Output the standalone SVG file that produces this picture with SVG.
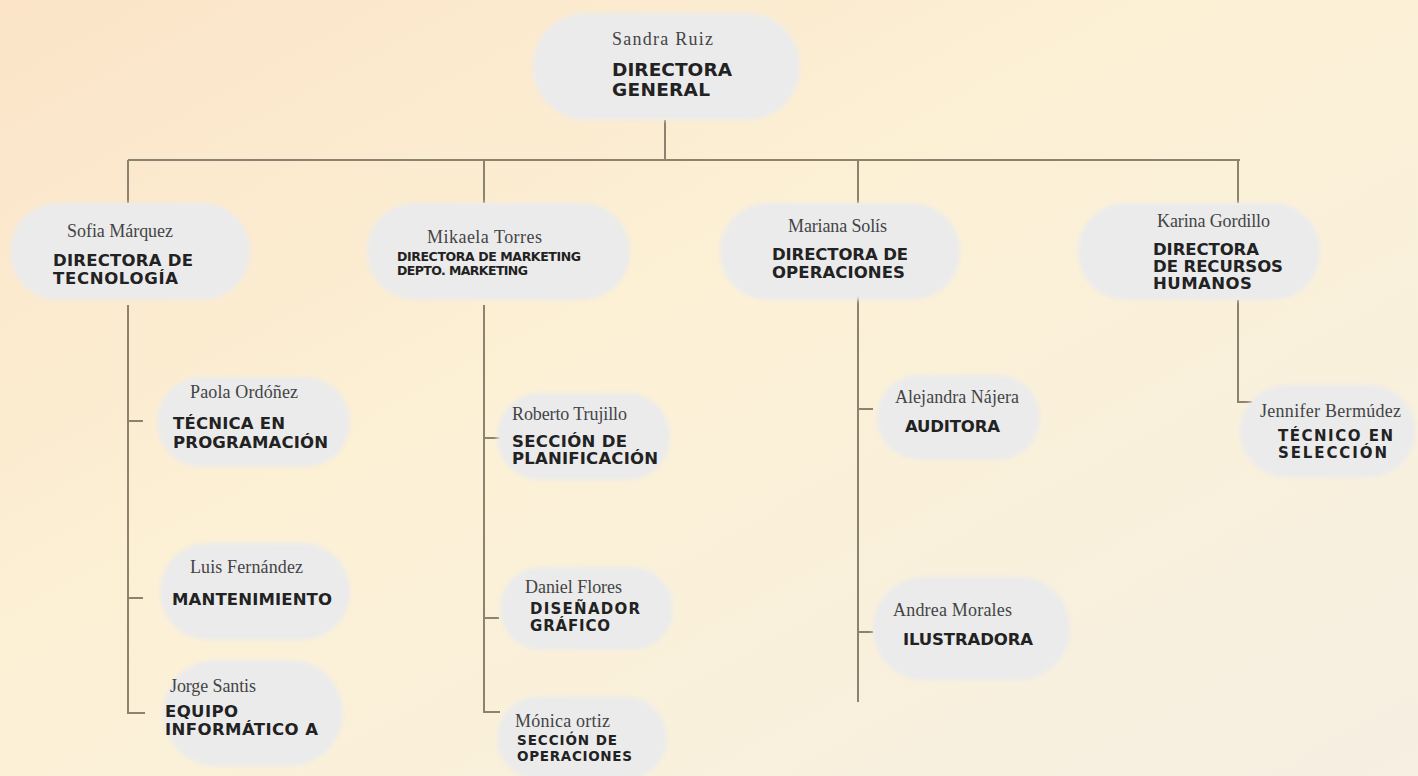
<svg xmlns="http://www.w3.org/2000/svg" width="1418" height="776" viewBox="0 0 1418 776">
<defs>
<linearGradient id="bg" x1="0" y1="0" x2="1" y2="1">
<stop offset="0" stop-color="#fbe4c8"/>
<stop offset="0.45" stop-color="#fcf1d6"/>
<stop offset="1" stop-color="#f6efe2"/>
</linearGradient>
<filter id="soft" x="-10%" y="-10%" width="120%" height="120%">
<feGaussianBlur stdDeviation="2"/>
</filter>
<style>
.pill{fill:#ebebec;filter:url(#soft)}
.nm{font-family:"Liberation Serif","DejaVu Serif",serif;font-size:18px;fill:#444}
.tt{font-family:"DejaVu Sans","Lato",sans-serif;font-weight:bold;font-size:16.5px;fill:#222}
.conn{stroke:#8b8270;stroke-width:2;fill:none}
</style>
</defs>
<rect width="1418" height="776" fill="url(#bg)"/>
<g id="connectors" class="conn">
<path d="M665 120V160M128 160H1240M128 160V203M484 160V203M858 160V203M1238 160V203"/>
<path d="M128 305V713H145M128 421H143M128 598H143"/>
<path d="M484 305V712H500M484 438H500M484 618H499"/>
<path d="M858 296V702M858 409H873M858 632H873"/>
<path d="M1238 300V402H1252"/>
</g>
<g id="n-sandra">
<rect class="pill" x="533" y="13" width="267" height="107" rx="53"/>
<text class="nm" x="612" y="45" textLength="101">Sandra Ruiz</text>
<text class="tt" x="612" y="76" style="font-size:18.5px" textLength="120">DIRECTORA</text>
<text class="tt" x="612" y="96" style="font-size:18.5px" textLength="98">GENERAL</text>
</g>
<g id="n-sofia">
<rect class="pill" x="10" y="203" width="240" height="97" rx="48"/>
<text class="nm" x="67" y="237" textLength="106">Sofia Márquez</text>
<text class="tt" x="53" y="266" textLength="140">DIRECTORA DE</text>
<text class="tt" x="53" y="284" textLength="125">TECNOLOGÍA</text>
</g>
<g id="n-mikaela">
<rect class="pill" x="367" y="203" width="263" height="97" rx="48"/>
<text class="nm" x="427" y="243" textLength="115">Mikaela  Torres</text>
<text class="tt" x="397" y="261" style="font-size:12.5px" textLength="184">DIRECTORA DE MARKETING</text>
<text class="tt" x="397" y="275" style="font-size:12.5px" textLength="131">DEPTO. MARKETING</text>
</g>
<g id="n-mariana">
<rect class="pill" x="720" y="203" width="240" height="97" rx="48"/>
<text class="nm" x="788" y="232" textLength="99">Mariana Solís</text>
<text class="tt" x="772" y="260" textLength="136">DIRECTORA DE</text>
<text class="tt" x="772" y="278" textLength="133">OPERACIONES</text>
</g>
<g id="n-karina">
<rect class="pill" x="1078" y="203" width="242" height="97" rx="48"/>
<text class="nm" x="1157" y="227" textLength="113">Karina Gordillo</text>
<text class="tt" x="1153" y="255" textLength="106">DIRECTORA</text>
<text class="tt" x="1153" y="272" textLength="130">DE RECURSOS</text>
<text class="tt" x="1153" y="289" textLength="99">HUMANOS</text>
</g>
<g id="n-paola">
<rect class="pill" x="157" y="377" width="193" height="90" rx="45"/>
<text class="nm" x="190" y="398" textLength="108">Paola Ordóñez</text>
<text class="tt" x="173" y="429" textLength="112">TÉCNICA EN</text>
<text class="tt" x="173" y="448" textLength="155">PROGRAMACIÓN</text>
</g>
<g id="n-luis">
<rect class="pill" x="160" y="543" width="190" height="97" rx="48"/>
<text class="nm" x="190" y="573" textLength="113">Luis Fernández</text>
<text class="tt" x="172" y="605" textLength="160">MANTENIMIENTO</text>
</g>
<g id="n-jorge">
<rect class="pill" x="163" y="660" width="180" height="106" rx="53"/>
<text class="nm" x="170" y="692" textLength="86">Jorge Santis</text>
<text class="tt" x="165" y="717" textLength="73">EQUIPO</text>
<text class="tt" x="165" y="735" textLength="153">INFORMÁTICO A</text>
</g>
<g id="n-roberto">
<rect class="pill" x="497" y="393" width="173" height="87" rx="43"/>
<text class="nm" x="512" y="420" textLength="115">Roberto Trujillo</text>
<text class="tt" x="512" y="447" textLength="115">SECCIÓN DE</text>
<text class="tt" x="512" y="464" textLength="146">PLANIFICACIÓN</text>
</g>
<g id="n-daniel">
<rect class="pill" x="500" y="567" width="173" height="83" rx="41"/>
<text class="nm" x="525" y="593" textLength="97">Daniel Flores</text>
<text class="tt" x="530" y="614" style="font-size:15px" textLength="110">DISEÑADOR</text>
<text class="tt" x="530" y="631" style="font-size:15px" textLength="80">GRÁFICO</text>
</g>
<g id="n-monica">
<rect class="pill" x="497" y="697" width="170" height="82" rx="41"/>
<text class="nm" x="515" y="727" textLength="95">Mónica ortiz</text>
<text class="tt" x="517" y="745" style="font-size:13.5px" textLength="100">SECCIÓN DE</text>
<text class="tt" x="517" y="761" style="font-size:13.5px" textLength="115">OPERACIONES</text>
</g>
<g id="n-alejandra">
<rect class="pill" x="877" y="375" width="163" height="85" rx="42"/>
<text class="nm" x="895" y="403" textLength="124">Alejandra Nájera</text>
<text class="tt" x="905" y="432" textLength="95">AUDITORA</text>
</g>
<g id="n-andrea">
<rect class="pill" x="873" y="577" width="197" height="103" rx="51"/>
<text class="nm" x="893" y="616" textLength="119">Andrea Morales</text>
<text class="tt" x="903" y="645" textLength="130">ILUSTRADORA</text>
</g>
<g id="n-jennifer">
<rect class="pill" x="1240" y="385" width="175" height="92" rx="46"/>
<text class="nm" x="1260" y="417" textLength="141">Jennifer Bermúdez</text>
<text class="tt" x="1278" y="441" style="font-size:15px" textLength="115">TÉCNICO EN</text>
<text class="tt" x="1278" y="458" style="font-size:15px" textLength="109">SELECCIÓN</text>
</g>
</svg>
